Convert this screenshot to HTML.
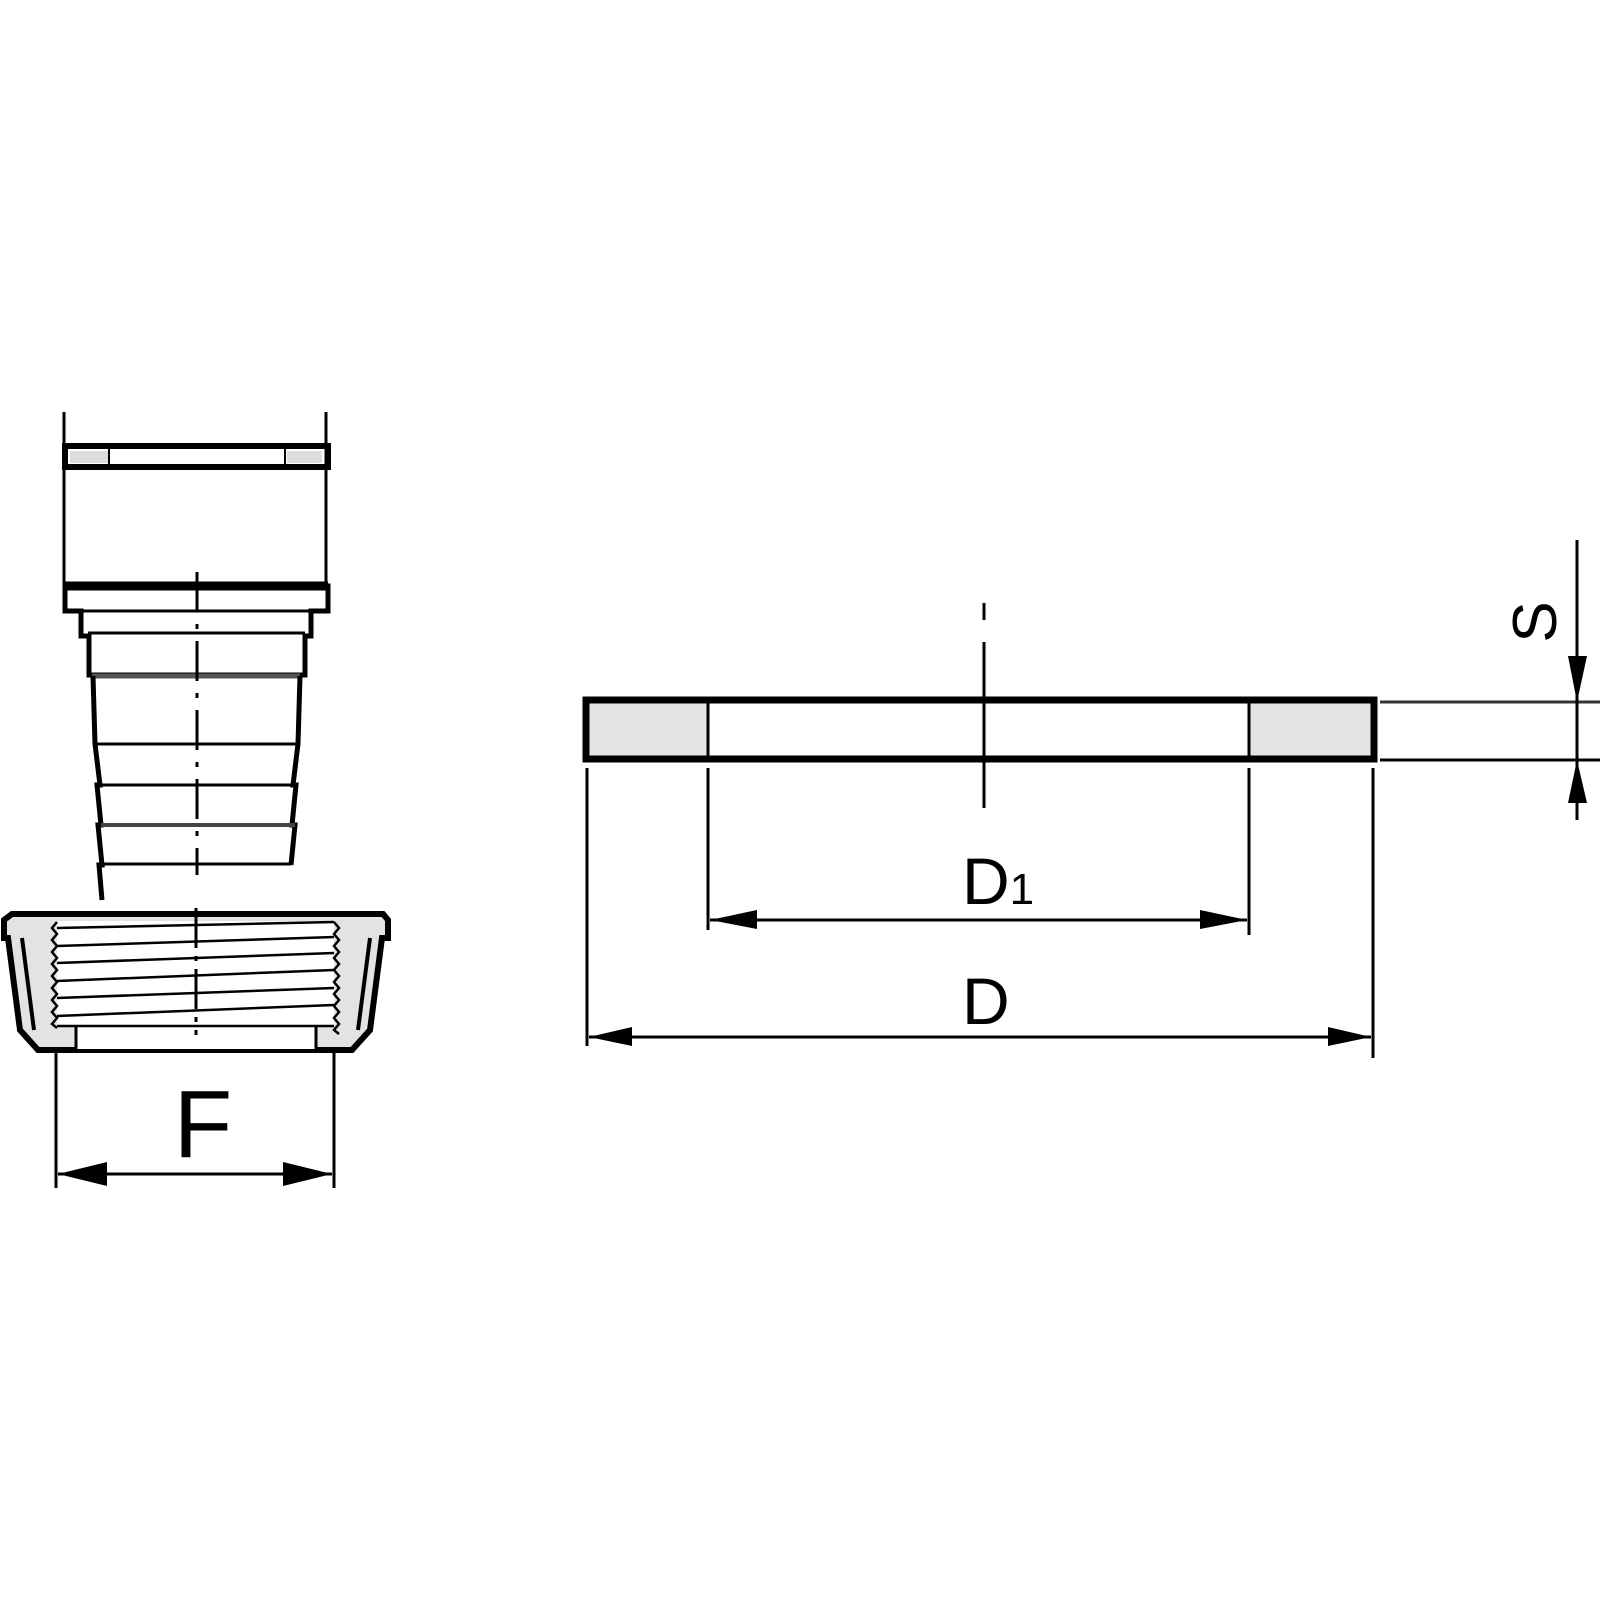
<!DOCTYPE html>
<html><head><meta charset="utf-8"><style>html,body{margin:0;padding:0;background:#fff}svg{display:block}</style></head>
<body>
<svg width="1600" height="1600" viewBox="0 0 1600 1600" xmlns="http://www.w3.org/2000/svg" font-family="Liberation Sans, Arial, sans-serif">
<rect width="1600" height="1600" fill="#fff"/>
<!-- WASHER -->
<rect x="707" y="699" width="542" height="61" fill="#fff"/>
<rect x="586" y="699" width="121" height="61" fill="#e3e3e3"/>
<rect x="1249" y="699" width="125" height="61" fill="#e3e3e3"/>
<rect x="586" y="700" width="788" height="59" fill="none" stroke="#000" stroke-width="7"/>
<line x1="708" y1="700" x2="708" y2="760" stroke="#000" stroke-width="3"/>
<line x1="1249" y1="700" x2="1249" y2="760" stroke="#000" stroke-width="3"/>
<line x1="984" y1="603" x2="984" y2="620" stroke="#000" stroke-width="3"/>
<line x1="984" y1="642" x2="984" y2="808" stroke="#000" stroke-width="3"/>
<!-- S -->
<line x1="1380" y1="702" x2="1600" y2="702" stroke="#333" stroke-width="3"/>
<line x1="1380" y1="760" x2="1600" y2="760" stroke="#000" stroke-width="3"/>
<line x1="1577" y1="540" x2="1577" y2="820" stroke="#000" stroke-width="3"/>
<polygon points="1568,656 1587,656 1577,702" fill="#000"/>
<polygon points="1568,803 1587,803 1577,760" fill="#000"/>
<text x="0" y="0" font-size="62" transform="translate(1556,622) rotate(-90)" text-anchor="middle">S</text>
<!-- D1 -->
<line x1="708" y1="768" x2="708" y2="930" stroke="#000" stroke-width="3"/>
<line x1="1249" y1="768" x2="1249" y2="935" stroke="#000" stroke-width="3"/>
<line x1="710" y1="920" x2="1247" y2="920" stroke="#000" stroke-width="3"/>
<polygon points="710,920 757,910 757,929" fill="#000"/>
<polygon points="1247,920 1200,910 1200,929" fill="#000"/>
<text x="962" y="904" font-size="66">D<tspan font-size="44">1</tspan></text>
<!-- D -->
<line x1="587" y1="768" x2="587" y2="1046" stroke="#000" stroke-width="3"/>
<line x1="1373" y1="768" x2="1373" y2="1058" stroke="#000" stroke-width="3"/>
<line x1="589" y1="1037" x2="1371" y2="1037" stroke="#000" stroke-width="3"/>
<polygon points="589,1037 632,1027 632,1046" fill="#000"/>
<polygon points="1371,1037 1328,1027 1328,1046" fill="#000"/>
<text x="962" y="1024" font-size="66">D</text>

<!-- LEFT: top part -->
<line x1="64" y1="412" x2="64" y2="590" stroke="#000" stroke-width="3"/>
<line x1="326" y1="412" x2="326" y2="590" stroke="#000" stroke-width="3"/>
<rect x="70" y="451" width="38" height="12" fill="#ddd"/>
<rect x="287" y="451" width="35" height="12" fill="#ddd"/>
<rect x="65" y="446" width="263" height="21" fill="none" stroke="#000" stroke-width="6"/>
<line x1="109" y1="449" x2="109" y2="464" stroke="#000" stroke-width="2"/>
<line x1="285" y1="449" x2="285" y2="464" stroke="#000" stroke-width="2"/>
<!-- flange -->
<path d="M65,586 H328 V611 H311 V636 H305 V675 H89 V636 H81 V611 H65 Z" fill="#fff" stroke="#000" stroke-width="5"/>
<line x1="65" y1="586" x2="328" y2="586" stroke="#000" stroke-width="9"/>
<line x1="81" y1="611" x2="311" y2="611" stroke="#000" stroke-width="3"/>
<line x1="88" y1="633" x2="305" y2="633" stroke="#000" stroke-width="3"/>
<line x1="92" y1="676" x2="300" y2="676" stroke="#555" stroke-width="5"/>
<!-- barbed body -->
<path d="M93,676 L95,744 L100,785 L97,785 L101,825 L98,825 L102,865 L99,865 L102,900" fill="none" stroke="#000" stroke-width="5"/>
<path d="M300,676 L298,744 L293,785 L296,785 L292,825 L295,825 L291,865" fill="none" stroke="#000" stroke-width="5"/>
<line x1="97" y1="744" x2="297" y2="744" stroke="#000" stroke-width="3"/>
<line x1="100" y1="785" x2="295" y2="785" stroke="#000" stroke-width="3"/>
<line x1="101" y1="825" x2="295" y2="825" stroke="#444" stroke-width="4"/>
<line x1="102" y1="864" x2="291" y2="864" stroke="#000" stroke-width="3"/>
<line x1="197" y1="572" x2="197" y2="875" stroke="#000" stroke-width="3" stroke-dasharray="40,12,5,12"/>
<!-- NUT -->
<path d="M12,914 H383 L388,920 V938 H382 L370,1030 L352,1050 H38 L20,1030 L8,938 H4 V920 Z" fill="#e3e3e3" stroke="#000" stroke-width="6"/>
<path d="M22,938 L34,1030 M370,938 L358,1030" stroke="#000" stroke-width="4" fill="none"/>
<rect x="57" y="921" width="277" height="105" fill="#fff"/>
<rect x="76" y="1026" width="240" height="23" fill="#fff"/>
<line x1="76" y1="1026" x2="76" y2="1049" stroke="#000" stroke-width="3"/>
<line x1="316" y1="1026" x2="316" y2="1049" stroke="#000" stroke-width="3"/>
<path d="M57,922 l-5,6 l5,6 l-5,6 l5,6 l-5,6 l5,6 l-5,6 l5,6 l-5,6 l5,6 l-5,6 l5,6 l-5,6 l5,6 l-5,6 l5,6 l-5,6 l5,4" fill="none" stroke="#000" stroke-width="2.5"/>
<path d="M334,922 l5,6 l-5,6 l5,6 l-5,6 l5,6 l-5,6 l5,6 l-5,6 l5,6 l-5,6 l5,6 l-5,6 l5,6 l-5,6 l5,6 l-5,6 l5,6 l-5,6 l5,4" fill="none" stroke="#000" stroke-width="2.5"/>
<g stroke="#000" stroke-width="2.5">
<line x1="57" y1="928" x2="334" y2="922"/>
<line x1="57" y1="946" x2="334" y2="937"/>
<line x1="57" y1="963" x2="334" y2="953"/>
<line x1="57" y1="981" x2="334" y2="970"/>
<line x1="57" y1="998" x2="334" y2="988"/>
<line x1="57" y1="1016" x2="334" y2="1005"/>
<line x1="57" y1="1026" x2="334" y2="1026"/>
</g>
<line x1="196" y1="908" x2="196" y2="1035" stroke="#000" stroke-width="3" stroke-dasharray="40,8,5,8"/>
<!-- F dim -->
<line x1="56" y1="1050" x2="56" y2="1188" stroke="#000" stroke-width="3"/>
<line x1="334" y1="1050" x2="334" y2="1188" stroke="#000" stroke-width="3"/>
<line x1="58" y1="1174" x2="332" y2="1174" stroke="#000" stroke-width="3"/>
<polygon points="58,1174 107,1162 107,1186" fill="#000"/>
<polygon points="332,1174 283,1162 283,1186" fill="#000"/>
<text x="203" y="1157" font-size="96" text-anchor="middle">F</text>
</svg>
</body></html>
